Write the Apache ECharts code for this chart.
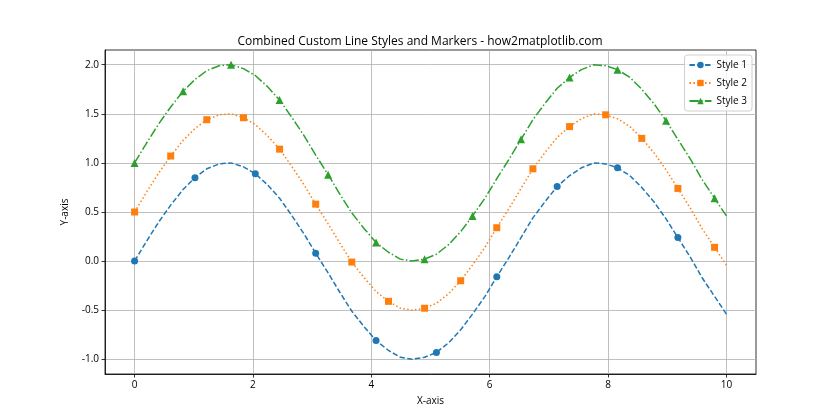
<!DOCTYPE html>
<html><head><meta charset="utf-8">
<script src="https://cdn.jsdelivr.net/npm/echarts@6/dist/echarts.min.js"></script>
<style>html,body{margin:0;padding:0;background:#fff}#c{width:840px;height:420px}</style>
</head><body><div id="c"></div>
<script>
const xValues = [0,0.20,0.41,0.61,0.82,1.02,1.22,1.43,1.63,1.84,2.04,2.24,2.45,2.65,2.86,3.06,3.27,3.47,3.67,3.88,4.08,4.29,4.49,4.69,4.90,5.10,5.31,5.51,5.71,5.92,6.12,6.33,6.53,6.73,6.94,7.14,7.35,7.55,7.76,7.96,8.16,8.37,8.57,8.78,8.98,9.18,9.39,9.59,9.80,10];
const style1 = [0,0.20,0.40,0.57,0.73,0.85,0.94,0.99,1.00,0.96,0.89,0.78,0.64,0.47,0.28,0.08,-0.12,-0.32,-0.51,-0.67,-0.81,-0.91,-0.98,-1.00,-0.98,-0.93,-0.83,-0.70,-0.54,-0.36,-0.16,0.04,0.24,0.44,0.61,0.76,0.87,0.95,1.00,0.99,0.95,0.87,0.75,0.60,0.43,0.24,0.04,-0.17,-0.36,-0.54];
const style2 = [0.50,0.70,0.90,1.07,1.23,1.35,1.44,1.49,1.50,1.46,1.39,1.28,1.14,0.97,0.78,0.58,0.38,0.18,-0.01,-0.17,-0.31,-0.41,-0.48,-0.50,-0.48,-0.43,-0.33,-0.20,-0.04,0.14,0.34,0.54,0.74,0.94,1.11,1.26,1.37,1.45,1.50,1.49,1.45,1.37,1.25,1.10,0.93,0.74,0.54,0.33,0.14,-0.04];
const style3 = [1.00,1.20,1.40,1.57,1.73,1.85,1.94,1.99,2.00,1.96,1.89,1.78,1.64,1.47,1.28,1.08,0.88,0.68,0.49,0.33,0.19,0.09,0.02,0.00,0.02,0.07,0.17,0.30,0.46,0.64,0.84,1.04,1.24,1.44,1.61,1.76,1.87,1.95,2.00,1.99,1.95,1.87,1.75,1.60,1.43,1.24,1.04,0.83,0.64,0.46];
const seriesNames = ['Style 1','Style 2','Style 3'];
const xTicks = [0,2,4,6,8,10];
const yTicks = [-1.0,-0.5,0.0,0.5,1.0,1.5,2.0];

const FONT = 'Open Sans';
const colors = ['#1f77b4','#ff7f0e','#2ca02c'];
const symbols = ['circle','rect','triangle'];
const symSizes = [7,7,8];
const markEvery = [5,3,4];
const dashes = [[5.4,2.4],[1.5,2.4],[9.3,2.3,1.5,2.3]];
const ys = [style1, style2, style3];

const series = ys.map((arr, k) => ({
  name: seriesNames[k],
  type: 'line',
  data: arr.map((v, i) => ({value: [xValues[i], v], symbol: i % markEvery[k] === 0 ? symbols[k] : 'none'})),
  symbol: symbols[k],
  symbolSize: symSizes[k],
  showSymbol: true,
  showAllSymbol: true,
  color: colors[k],
  itemStyle: {color: colors[k]},
  lineStyle: {color: colors[k], width: 1.5, type: dashes[k]},
  animation: false,
  z: 3
}));

const chart = echarts.init(document.getElementById('c'), null, {renderer: 'canvas'});
chart.setOption({
  backgroundColor: '#fff',
  animation: false,
  title: {
    text: 'Combined Custom Line Styles and Markers - how2matplotlib.com',
    left: 'center', top: 31,
    textStyle: {fontFamily: FONT, fontSize: 12, fontWeight: 'normal', color: '#000'}
  },
  legend: {
    orient: 'vertical', right: 88, top: 55,
    data: seriesNames,
    itemWidth: 22, itemHeight: 8, itemGap: 8,
    backgroundColor: 'rgba(255,255,255,0.8)', borderColor: '#d0d0d0', borderWidth: 1, borderRadius: 3,
    padding: [5, 5, 5, 4],
    textStyle: {fontFamily: FONT, fontSize: 10, color: '#000'}
  },
  grid: {left: 105, right: 84, top: 50, bottom: 46, show: true, borderColor: '#000', borderWidth: 0.8},
  xAxis: {
    type: 'value', min: -0.5, max: 10.5,
    name: 'X-axis', nameLocation: 'middle', nameGap: 22,
    nameTextStyle: {fontFamily: FONT, fontSize: 10, color: '#000'},
    axisLine: {show: true, onZero: false, lineStyle: {color: '#000', width: 0.8}},
    axisTick: {show: true, length: 3.5, customValues: xTicks, lineStyle: {color: '#000', width: 0.8}},
    axisLabel: {customValues: xTicks, fontFamily: FONT, fontSize: 10, color: '#000', margin: 6, formatter: v => String(v)},
    splitLine: {show: true, lineStyle: {color: '#b0b0b0', width: 0.8}}
  },
  yAxis: {
    type: 'value', min: -1.15, max: 2.15,
    name: 'Y-axis', nameLocation: 'middle', nameGap: 35, nameRotate: 90,
    nameTextStyle: {fontFamily: FONT, fontSize: 10, color: '#000'},
    axisLine: {show: true, onZero: false, lineStyle: {color: '#000', width: 0.8}},
    axisTick: {show: true, length: 3.5, customValues: yTicks, lineStyle: {color: '#000', width: 0.8}},
    axisLabel: {customValues: yTicks, fontFamily: FONT, fontSize: 10, color: '#000', margin: 6, formatter: v => v.toFixed(1)},
    splitLine: {show: true, lineStyle: {color: '#b0b0b0', width: 0.8}}
  },
  series: series
});
</script></body></html>
